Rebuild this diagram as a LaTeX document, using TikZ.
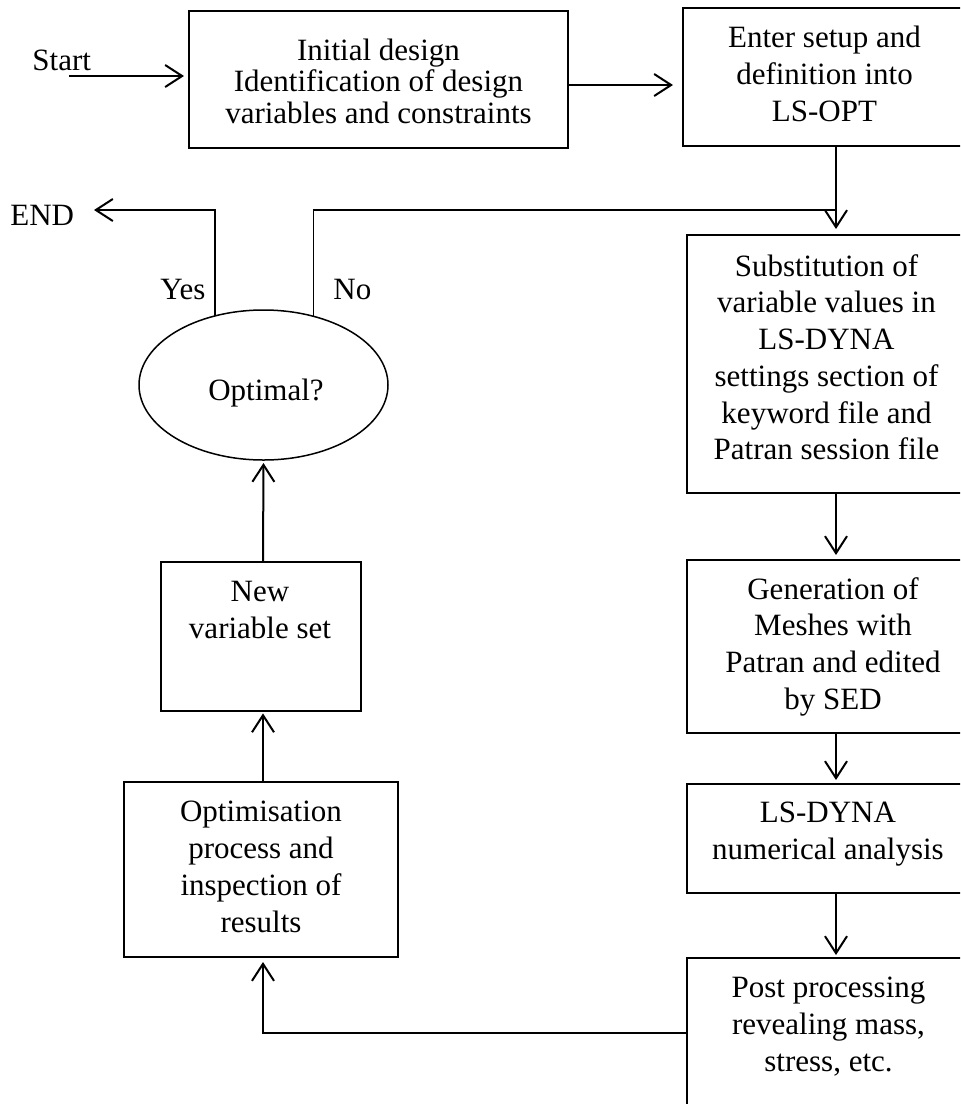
\documentclass[tikz,border=0pt]{standalone}
\usepackage{fontspec}
\setmainfont{Liberation Serif}
\usetikzlibrary{arrows.meta,shapes.geometric,calc}
\begin{document}
\begin{tikzpicture}[x=0.5pt,y=-0.5pt,
  box/.style={draw,line width=1pt,inner sep=0pt,outer sep=0pt},
  txt/.style={inner sep=0pt,align=center,font=\fontsize{15.5}{18.35}\selectfont},
  arr/.style={line width=1pt,-{Straight Barb[length=8.5pt,width=11pt,line width=1pt]}},
  thinline/.style={line width=0.8pt}]
\useasboundingbox (0,0) rectangle (960,1104);
\clip (0,0) rectangle (960,1104);
\fill[white] (0,0) rectangle (960,1104);

% boxes
\node[box,minimum width=189.5pt,minimum height=68.5pt] (init) at (378.5,79.5) {};
\node[box,minimum width=141.5pt,minimum height=69pt] (enter) at (824.5,77) {};
\node[box,minimum width=139.5pt,minimum height=129pt] (subst) at (826.5,364) {};
\node[box,minimum width=146pt,minimum height=86.5pt] (gen) at (833,646.5) {};
\node[box,minimum width=141pt,minimum height=54.5pt] (dyna) at (828,838.5) {};
\node[box,minimum width=141.5pt,minimum height=86pt] (post) at (828.5,1044) {};
\node[box,minimum width=137pt,minimum height=87.5pt] (optim) at (261,869.5) {};
\node[box,minimum width=100pt,minimum height=74.5pt] (newv) at (261,636.5) {};
\node[draw,ellipse,line width=0.75pt,inner sep=0pt,outer sep=0pt,minimum width=124.5pt,minimum height=75pt] (opt) at (263.5,385) {};

% texts
\node[txt,anchor=north,font=\fontsize{15.5}{15.85}\selectfont] (initT) at (378.5,38.3) {Initial design\\Identification of design\\variables and constraints};
\node[txt,anchor=north] (enterT) at (824.5,25.7) {Enter setup and\\definition into\\LS-OPT};
\node[txt,anchor=north] (substT) at (826.5,254) {Substitution of\\variable values in\\LS-DYNA\\settings section of\\keyword file and\\Patran session file};
\node[txt,anchor=north] (genT) at (833,577) {Generation of\\Meshes with\\Patran and edited\\by SED};
\node[txt,anchor=north] (dynaT) at (828,802) {LS-DYNA\\numerical analysis};
\node[txt,anchor=north] (postT) at (828.5,977) {Post processing\\revealing mass,\\stress, etc.};
\node[txt,anchor=north] (optimT) at (261,801) {Optimisation\\process and\\inspection of\\results};
\node[txt,anchor=north] (newvT) at (260,581) {New\\variable set};
\node[txt,anchor=base] (optT) at (266,400) {Optimal?};
\node[txt,anchor=base west] (startT) at (32,70) {Start};
\node[txt,anchor=base west] (endT) at (10,225) {END};
\node[txt,anchor=base west] (yesT) at (160,299) {Yes};
\node[txt,anchor=base west] (noT) at (333,299) {No};

% helper coordinates
\coordinate (s0) at (69,76);
\coordinate (r1) at (568,85);
\coordinate (colR) at (836,0);
\coordinate (colL) at (263,0);
\coordinate (endtip) at (94,210);
\coordinate (noR) at (836,210);
\coordinate (back) at (687,1033);

% connectors
\draw[arr,shorten >=2.5pt] (s0) -- (s0 -| init.west);
\draw[arr,shorten >=5pt] (r1 -| init.east) -- (r1 -| enter.west);
\draw[arr,shorten >=3pt] (enter.south -| colR) -- (subst.north -| colR);
\draw[arr,shorten >=2.5pt] (subst.south -| colR) -- (gen.north -| colR);
\draw[arr,shorten >=2pt] (gen.south -| colR) -- (dyna.north -| colR);
\draw[arr,shorten >=1.5pt] (dyna.south -| colR) -- (post.north -| colR);
\draw[arr,shorten >=2.5pt] (back -| post.west) -| (optim.south -| colL);
\draw[arr,shorten >=1.2pt] (optim.north -| colL) -- (newv.south -| colL);
\draw[arr,shorten >=1.5pt] (newv.north -| colL) -- (opt.south);
\draw[arr,thinline] (opt.125.7) |- (endtip);
\draw[thinline] (opt.54.3) |- (noR);
\end{tikzpicture}
\end{document}
